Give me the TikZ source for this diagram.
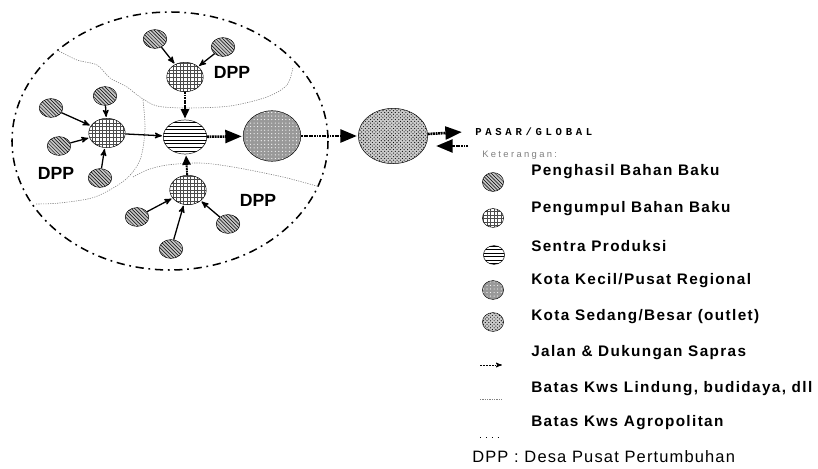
\documentclass[tikz,border=0pt]{standalone}
\usepackage{fontspec}
\setmainfont{Liberation Sans}
\setmonofont{Liberation Mono}
\usetikzlibrary{arrows,arrows.meta,shapes.geometric,patterns}

\begin{document}
\begin{tikzpicture}[x=0.85pt,y=-0.85pt,->,>=stealth',shorten >=1pt,semithick]
  \tikzstyle{titik}=[ellipse,draw=black,thin,inner sep=0pt]
  \tikzstyle{penghasil}=[titik,minimum width=20pt,minimum height=16pt,preaction={fill=gray!45},pattern=north west lines]
  \tikzstyle{pengumpul}=[titik,minimum width=31pt,minimum height=25pt,preaction={fill=white},pattern=grid,pattern color=black!70]
  \tikzstyle{sentra}=[titik,minimum width=37pt,minimum height=29pt,preaction={fill=white},pattern=horizontal lines]
  \tikzstyle{kecil}=[titik,minimum width=49pt,minimum height=43pt,preaction={fill=gray!80},pattern=dots,pattern color=white]
  \tikzstyle{sedang}=[titik,minimum width=59pt,minimum height=47pt,preaction={fill=gray!40},pattern=crosshatch dots]
  \tikzstyle{jalan}=[line width=1.1pt]
  \tikzstyle{utama}=[line width=2.2pt,dash pattern=on 1.6pt off 0.6pt]
  \tikzstyle{besar}=[-{Triangle[length=14pt,width=11pt]}]
  \tikzstyle{batas}=[-,gray,line width=0.5pt,dash pattern=on 1pt off 1pt]
  \tikzstyle{agro}=[-,line width=1.3pt,dash pattern=on 7pt off 4pt on 1.5pt off 4pt]
  \tikzstyle{dpp}=[font=\fontsize{15}{17}\selectfont\bfseries]
  \tikzstyle{legtext}=[anchor=west,font=\fontsize{13}{15}\selectfont\bfseries\addfontfeature{LetterSpace=9}]

  \useasboundingbox (0,0) rectangle (818,469);

  % kawasan agropolitan dan batas kawasan
  \draw[agro] (170,141) ellipse [x radius=158,y radius=129];
  \draw[batas] plot[smooth] coordinates {(57,50) (77,60) (97,65) (110,78) (127,87) (140,97) (157,106) (187,108) (230,106) (267,97) (287,85) (293,67)};
  \draw[batas] plot[smooth] coordinates {(143,100) (145,130) (140,160) (125,180) (95,197) (60,203) (35,204)};
  \draw[batas] plot[smooth] coordinates {(133,177) (147,170) (167,165) (200,163) (233,167) (283,177) (320,187)};

  % simpul
  \node[pengumpul] (DT) at (185,77) {};
  \node[penghasil] (PT1) at (155,39) {};
  \node[penghasil] (PT2) at (223,47) {};
  \node[pengumpul] (DL) at (107,133) {};
  \node[penghasil] (PL1) at (51,108) {};
  \node[penghasil] (PL2) at (105,96) {};
  \node[penghasil] (PL3) at (59,146) {};
  \node[penghasil] (PL4) at (100,178) {};
  \node[sentra] (S) at (185,137) {};
  \node[pengumpul] (DB) at (188,190) {};
  \node[penghasil] (PB1) at (137,217) {};
  \node[penghasil] (PB2) at (171,249) {};
  \node[penghasil] (PB3) at (228,224) {};
  \node[kecil] (K) at (272,136) {};
  \node[sedang] (B) at (393,136) {};

  \node[dpp] (lT) at (232,72) {DPP};
  \node[dpp] (lL) at (56,173) {DPP};
  \node[dpp] (lB) at (258,200) {DPP};

  \coordinate (pA) at (463,132);
  \coordinate (pB) at (468,146);
  \coordinate (pC) at (435,146);
  \node[anchor=west,font=\ttfamily\bfseries\fontsize{9}{10}\selectfont\addfontfeature{LetterSpace=35}] (pasar) at (471,132) {PASAR/GLOBAL};

  \path[jalan] (PT1) edge (DT)
               (PT2) edge (DT)
               (PL1) edge (DL)
               (PL2) edge (DL)
               (PL3) edge (DL)
               (PL4) edge (DL)
               (PB1) edge (DB)
               (PB2) edge (DB)
               (PB3) edge (DB)
               (DL) edge (S);
  \path[utama,line width=1.6pt] (DT) edge[-{Triangle[length=8pt,width=7pt]}] (S)
               (DB) edge[-{Triangle[length=8pt,width=7pt]}] (S);
  \path[utama] (S) edge[besar] (K)
               (K) edge[besar] (B)
               (B) edge[besar] (pA)
               (pB) edge[besar] (pC);

  % keterangan
  \node[anchor=west,text=gray,font=\fontsize{8}{9}\selectfont\addfontfeature{LetterSpace=25}] (ket) at (478,155) {Keterangan:};
  \node[penghasil,minimum width=18pt,minimum height=16pt] (L1) at (493,182) {};
  \node[pengumpul,minimum width=18pt,minimum height=16pt] (L2) at (493,218) {};
  \node[sentra,minimum width=18pt,minimum height=16pt] (L3) at (494,255) {};
  \node[kecil,minimum width=18pt,minimum height=16pt] (L4) at (493,290) {};
  \node[sedang,minimum width=18pt,minimum height=16pt] (L5) at (493,322) {};
  \coordinate (j1) at (480,365); \coordinate (j2) at (503,365);
  \coordinate (b1) at (480,399); \coordinate (b2) at (503,399);
  \coordinate (a1) at (480,437); \coordinate (a2) at (503,437);
  \draw[line width=0.8pt,dash pattern=on 1.5pt off 1pt] (j1) -- (j2);
  \draw[batas] (b1) -- (b2);
  \draw[-,line width=0.6pt,dash pattern=on 1pt off 4pt] (a1) -- (a2);

  \node[legtext] (t1) at (527,172) {Penghasil Bahan Baku};
  \node[legtext] (t2) at (527,209) {Pengumpul Bahan Baku};
  \node[legtext] (t3) at (527,246) {Sentra Produksi};
  \node[legtext] (t4) at (527,281) {Kota Kecil/Pusat Regional};
  \node[legtext] (t5) at (527,317) {Kota Sedang/Besar (outlet)};
  \node[legtext] (t6) at (527,353) {Jalan \& Dukungan Sapras};
  \node[legtext] (t7) at (527,389) {Batas Kws Lindung, budidaya, dll};
  \node[legtext] (t8) at (527,423) {Batas Kws Agropolitan};
  \node[anchor=west,font=\fontsize{14}{16}\selectfont\addfontfeature{LetterSpace=7}] (t9) at (468,457) {DPP : Desa Pusat Pertumbuhan};
\end{tikzpicture}
\end{document}
